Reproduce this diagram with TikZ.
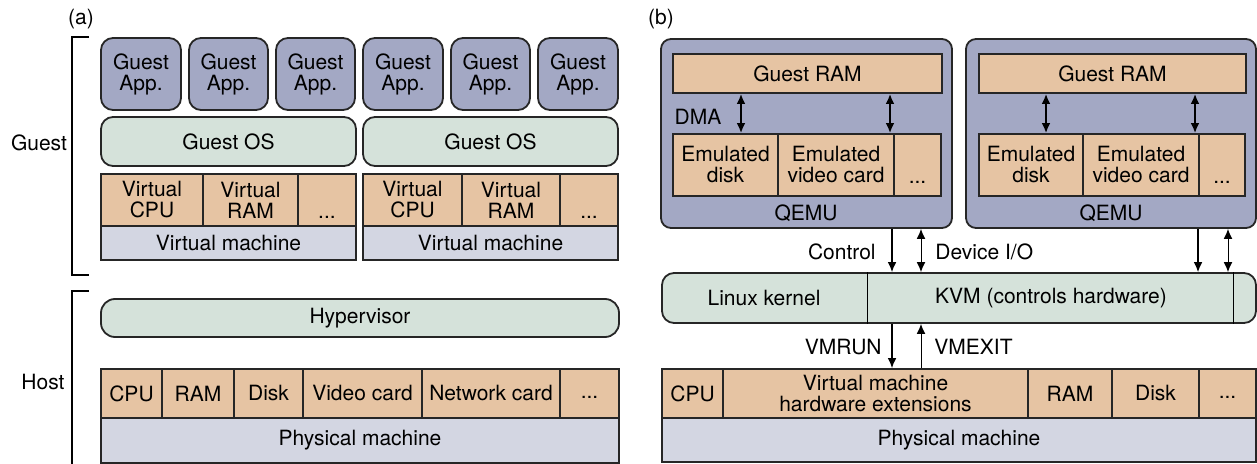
\documentclass[tikz,border=0pt]{standalone}
\usepackage{fontspec}
\setmainfont{TeX Gyre Heros}
\usetikzlibrary{arrows.meta,fit}

\definecolor{appblue}{RGB}{163,168,196}
\definecolor{osgreen}{RGB}{213,226,218}
\definecolor{hworange}{RGB}{230,196,163}
\definecolor{machgray}{RGB}{211,214,226}

\newcommand{\dotsA}{\vphantom{Ag}...}
\newcommand{\dotsB}{\vphantom{Ag}\\...}

\tikzset{
  base/.style={draw=black!85, line width=0.9pt, inner sep=0pt},
  app/.style={base, fill=appblue, rounded corners=6pt},
  os/.style={base, fill=osgreen, rounded corners=6pt},
  hw/.style={base, fill=hworange},
  mach/.style={base, fill=machgray},
  qemu/.style={base, fill=appblue, rounded corners=5pt},
  lbl/.style={inner sep=0pt, align=center, font=\fontsize{10.5}{10.5}\selectfont},
  txt/.style={label={[lbl]center:#1}},
  tip/.tip={Latex[length=5pt,width=4.4pt]},
  arr/.style={-tip, line width=0.7pt},
  darr/.style={tip-tip, line width=0.9pt},
}

\begin{document}
\begin{tikzpicture}[x=0.5pt,y=-0.5pt]
    \useasboundingbox (0,0) rectangle (1257,464);

    \node[lbl] (pa) at (81,19) {(a)};
    \node[lbl] (pb) at (661,19) {(b)};

    \draw[line width=0.6pt] (89,37) -- (72,37) -- (72,275) -- (89,275);
    \draw[line width=0.6pt] (89,291) -- (72,291) -- (72,464);
    \node[lbl] (guest) at (39,143) {Guest};
    \node[lbl] (host) at (43,382) {Host};

    \node[app, fit={(101,38) (181,110)}, txt={Guest\\App.}] (app1) {};
    \node[app, fit={(189,38) (268,110)}, txt={Guest\\App.}] (app2) {};
    \node[app, fit={(276,38) (355,110)}, txt={Guest\\App.}] (app3) {};
    \node[app, fit={(363,38) (443,110)}, txt={Guest\\App.}] (app4) {};
    \node[app, fit={(451,38) (530,110)}, txt={Guest\\App.}] (app5) {};
    \node[app, fit={(538,38) (618,110)}, txt={Guest\\App.}] (app6) {};

    \node[os, fit={(101,117) (356,166)}, txt={Guest OS}] (os1) {};
    \node[os, fit={(363,117) (618,166)}, txt={Guest OS}] (os2) {};

    \node[hw, fit={(101,174) (203,226)}, txt={Virtual\\CPU}] (vcpu1) {};
    \node[hw, fit={(203,174) (298,226)}, txt={Virtual\\RAM}] (vram1) {};
    \node[hw, fit={(298,174) (356,226)}, txt={\dotsB}] (vdots1) {};
    \node[hw, fit={(363,174) (462,226)}, txt={Virtual\\CPU}] (vcpu2) {};
    \node[hw, fit={(462,174) (560,226)}, txt={Virtual\\RAM}] (vram2) {};
    \node[hw, fit={(560,174) (618,226)}, txt={\dotsB}] (vdots2) {};
    \node[mach, fit={(101,226) (356,260)}, txt={Virtual machine}] (vm1) {};
    \node[mach, fit={(363,226) (618,260)}, txt={Virtual machine}] (vm2) {};

    \node[os, rounded corners=7pt, fit={(101,299) (619,337)}, txt={Hypervisor}] (hyp) {};

    \node[hw, fit={(101,369) (162,418)}, txt={CPU}] (cpu) {};
    \node[hw, fit={(162,369) (234,418)}, txt={RAM}] (ram) {};
    \node[hw, fit={(234,369) (303,418)}, txt={Disk}] (disk) {};
    \node[hw, fit={(303,369) (422,418)}, txt={Video card}] (video) {};
    \node[hw, fit={(422,369) (560,418)}, txt={Network card}] (net) {};
    \node[hw, fit={(560,369) (619,418)}, txt={\dotsA}] (hdots) {};
    \node[mach, fit={(101,418) (619,463)}, txt={Physical machine}] (pm) {};

    \node[qemu, fit={(661,39) (952,228)}] (qemuL) {};
    \node[hw, fit={(673,54) (942,93)}, txt={Guest RAM}] (gramL) {};
    \node[hw, fit={(673,134) (778,196)}, txt={Emulated\\disk}] (edisk1) {};
    \node[hw, fit={(778,134) (894,196)}, txt={Emulated\\video card}] (evid1) {};
    \node[hw, fit={(894,134) (941,196)}, txt={\dotsB}] (edots1) {};
    \node[lbl] (qemuLtxt) at (806,213) {QEMU};
    \node[lbl] (dma) at (698,117) {DMA};

    \node[qemu, fit={(966,39) (1256,228)}] (qemuR) {};
    \node[hw, fit={(979,54) (1246,93)}, txt={Guest RAM}] (gramR) {};
    \node[hw, fit={(979,134) (1083,196)}, txt={Emulated\\disk}] (edisk2) {};
    \node[hw, fit={(1083,134) (1199,196)}, txt={Emulated\\video card}] (evid2) {};
    \node[hw, fit={(1199,134) (1245,196)}, txt={\dotsB}] (edots2) {};
    \node[lbl] (qemuRtxt) at (1111,213) {QEMU};

    \coordinate (d1) at (741,0);
    \coordinate (d2) at (890,0);
    \coordinate (d3) at (1046,0);
    \coordinate (d4) at (1195,0);
    \draw[darr] (d1 |- gramL.south) -- (d1 |- edisk1.north);
    \draw[darr] (d2 |- gramL.south) -- (d2 |- evid1.north);
    \draw[darr] (d3 |- gramR.south) -- (d3 |- edisk2.north);
    \draw[darr] (d4 |- gramR.south) -- (d4 |- evid2.north);

    \node[os, rounded corners=6pt, fit={(662,273) (1256,323)}] (kernel) {};
    \draw[line width=0.5pt] (kernel.north -| 867,0) -- (kernel.south -| 867,0);
    \draw[line width=0.5pt] (kernel.north -| 1233,0) -- (kernel.south -| 1233,0);
    \node[lbl] (linux) at (764,298) {Linux kernel};
    \node[lbl] (kvm) at (1051,298) {KVM (controls hardware)};

    \coordinate (c1) at (892,0);
    \coordinate (c2) at (921,0);
    \coordinate (c3) at (1198,0);
    \coordinate (c4) at (1228,0);
    \draw[arr] (c1 |- qemuL.south) -- (c1 |- kernel.north);
    \draw[darr, line width=0.5pt] (c2 |- qemuL.south) -- (c2 |- kernel.north);
    \draw[arr] (c3 |- qemuR.south) -- (c3 |- kernel.north);
    \draw[darr, line width=0.5pt] (c4 |- qemuR.south) -- (c4 |- kernel.north);
    \node[lbl, anchor=east] (ctrl) at (876,252) {Control};
    \node[lbl, anchor=west] (dio) at (935,252) {Device I/O};

    \node[hw, fit={(662,369) (723,418)}, txt={CPU}] (bcpu) {};
    \node[hw, fit={(723,369) (1028,418)}, txt={Virtual machine\\hardware extensions}] (vmx) {};
    \node[hw, fit={(1028,369) (1112,418)}, txt={RAM}] (bram) {};
    \node[hw, fit={(1112,369) (1199,418)}, txt={Disk}] (bdisk) {};
    \node[hw, fit={(1199,369) (1256,418)}, txt={\dotsA}] (bdots) {};
    \node[mach, fit={(662,418) (1256,462)}, txt={Physical machine}] (bpm) {};

    \draw[arr] (c1 |- kernel.south) -- (c1 |- vmx.north);
    \draw[arr, line width=0.5pt] (c2 |- vmx.north) -- (c2 |- kernel.south);
    \node[lbl, anchor=east] (vmrun) at (882,347) {VMRUN};
    \node[lbl, anchor=west] (vmexit) at (934,347) {VMEXIT};
\end{tikzpicture}
\end{document}
